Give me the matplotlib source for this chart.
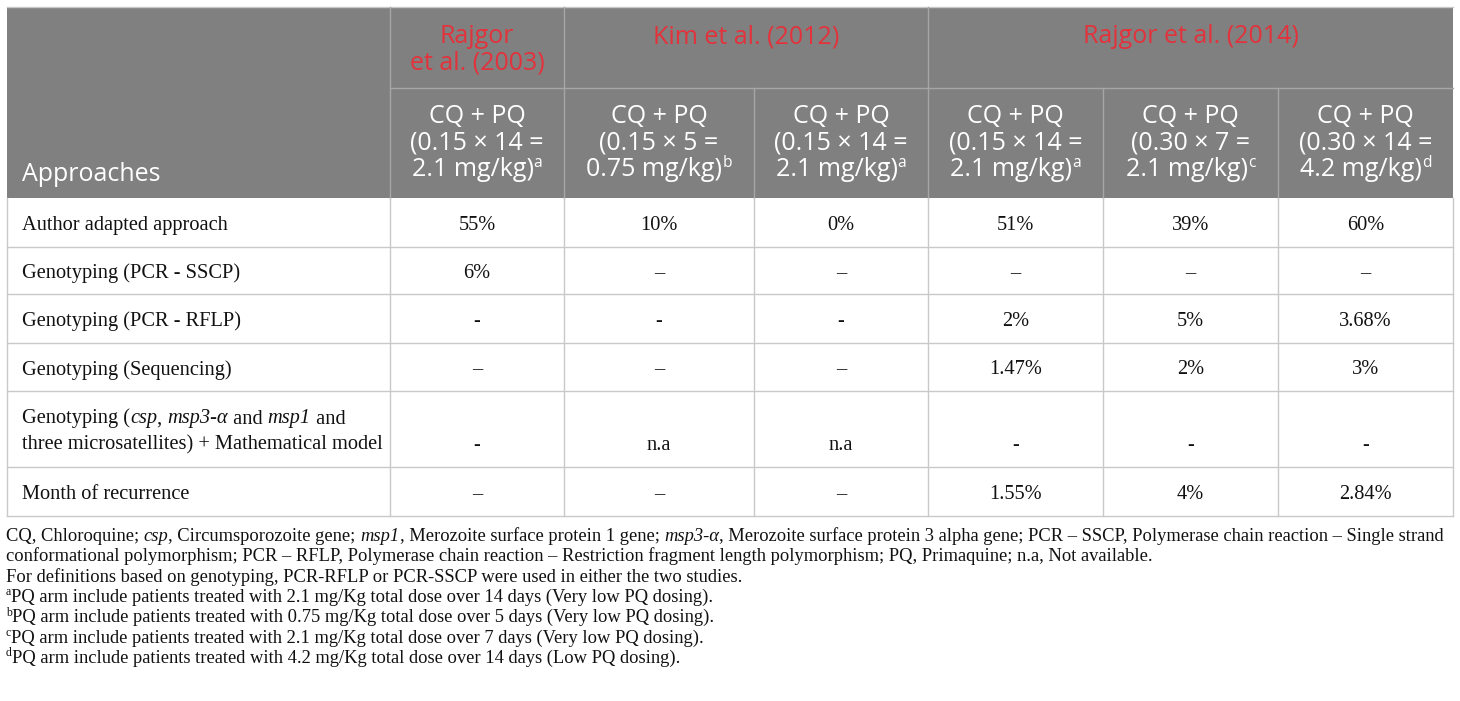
import matplotlib
matplotlib.use("Agg")
import matplotlib.pyplot as plt
from matplotlib.patches import Rectangle

# ---------------- data ----------------
study_names = ["Rajgor\net al. (2003)", "Kim et al. (2012)", "Rajgor et al. (2014)"]
study_arm_counts = [1, 2, 3]
arm_regimen = "CQ + PQ"
arm_doses = [
    ["(0.15 × 14 =", "2.1 mg/kg)"],
    ["(0.15 × 5 =", "0.75 mg/kg)"],
    ["(0.15 × 14 =", "2.1 mg/kg)"],
    ["(0.15 × 14 =", "2.1 mg/kg)"],
    ["(0.30 × 7 =", "2.1 mg/kg)"],
    ["(0.30 × 14 =", "4.2 mg/kg)"],
]
arm_notes = ["a", "b", "a", "a", "c", "d"]
corner_label = "Approaches"

row_labels = [
    [[("Author adapted approach", "n")]],
    [[("Genotyping (PCR - SSCP)", "n")]],
    [[("Genotyping (PCR - RFLP)", "n")]],
    [[("Genotyping (Sequencing)", "n")]],
    [[("Genotyping (", "n"), ("csp", "i"), (", ", "n"), ("msp3-α", "i"),
      (" and ", "n"), ("msp1", "i"), (" and", "n")],
     [("three microsatellites) + Mathematical model", "n")]],
    [[("Month of recurrence", "n")]],
]
values = [
    ["55%", "10%", "0%", "51%", "39%", "60%"],
    ["6%", "–", "–", "–", "–", "–"],
    ["-", "-", "-", "2%", "5%", "3.68%"],
    ["–", "–", "–", "1.47%", "2%", "3%"],
    ["-", "n.a", "n.a", "-", "-", "-"],
    ["–", "–", "–", "1.55%", "4%", "2.84%"],
]
footnotes = [
    [("CQ, Chloroquine; ", "n"), ("csp", "i"), (", Circumsporozoite gene; ", "n"), ("msp1", "i"),
     (", Merozoite surface protein 1 gene; ", "n"), ("msp3-α", "i"),
     (", Merozoite surface protein 3 alpha gene; PCR – SSCP, Polymerase chain reaction – Single strand", "n")],
    [("conformational polymorphism; PCR – RFLP, Polymerase chain reaction – Restriction fragment length polymorphism; PQ, Primaquine; n.a, Not available.", "n")],
    [("For definitions based on genotyping, PCR-RFLP or PCR-SSCP were used in either the two studies.", "n")],
    [("a", "sup"), ("PQ arm include patients treated with 2.1 mg/Kg total dose over 14 days (Very low PQ dosing).", "n")],
    [("b", "sup"), ("PQ arm include patients treated with 0.75 mg/Kg total dose over 5 days (Very low PQ dosing).", "n")],
    [("c", "sup"), ("PQ arm include patients treated with 2.1 mg/Kg total dose over 7 days (Very low PQ dosing).", "n")],
    [("d", "sup"), ("PQ arm include patients treated with 4.2 mg/Kg total dose over 14 days (Low PQ dosing).", "n")],
]

# ---------------- layout / style ----------------
W, H = 1460, 701
col_edges = [7, 390, 564, 754, 928, 1103, 1278, 1453]
head_top, head_mid, head_bot = 7, 88, 198
row_edges = [198, 247, 294, 343, 391, 467, 516]
head_bg = "#808080"
head_line = "#a6a6a6"
body_line = "#c9c9c9"
red = "#e3323b"
sans = "Open Sans"
serif = "Liberation Serif"
head_size = 18.0
body_size = 14.7
foot_size = 13.3

fig = plt.figure(figsize=(W / 100, H / 100), dpi=100)
ax = fig.add_axes([0, 0, 1, 1])
ax.set_xlim(0, W)
ax.set_ylim(H, 0)
ax.axis("off")
renderer = fig.canvas.get_renderer()

_bar_cache = {}


def _width(txt, kw):
    key = tuple(sorted(kw.items()))
    if key not in _bar_cache:
        t = ax.text(0, 0, "||", **kw)
        _bar_cache[key] = t.get_window_extent(renderer).width
        t.remove()
    t = ax.text(0, 0, "|" + txt + "|", **kw)
    w = t.get_window_extent(renderer).width - _bar_cache[key]
    t.remove()
    return w


def draw_runs(x, y, runs, ha="left", family=serif, size=body_size, color="#111111",
              sup_scale=0.64, sup_raise=0.5):
    items = []
    for txt, st in runs:
        kw = dict(family=family, fontsize=size, color=color)
        dy = 0
        if st == "i":
            kw["style"] = "italic"
        elif st == "sup":
            kw["fontsize"] = size * sup_scale
            dy = -size * sup_raise
        items.append((txt, kw, dy, _width(txt, kw)))
    total = sum(i[3] for i in items)
    x0 = x - total / 2 if ha == "center" else x
    for txt, kw, dy, w in items:
        ax.text(x0, y + dy, txt, ha="left", va="baseline", **kw)
        x0 += w


# header background
ax.add_patch(Rectangle((col_edges[0], head_top), col_edges[-1] - col_edges[0],
                       head_bot - head_top, facecolor=head_bg, edgecolor="none", zorder=0))
ax.plot([col_edges[0], col_edges[-1]], [head_top, head_top], color="#c8c8c8", lw=1)
ax.plot([col_edges[1], col_edges[-1]], [head_mid, head_mid], color=head_line, lw=1)

# study groups
ci = 1
for name, n in zip(study_names, study_arm_counts):
    x_left, x_right = col_edges[ci], col_edges[ci + n]
    xc = (x_left + x_right) / 2
    for k, line in enumerate(name.split("\n")):
        ax.text(xc, 43 + k * 26.5, line, ha="center", va="baseline",
                family=sans, fontsize=head_size, color=red)
    ci += n

# vertical header lines
group_bounds = [1]
for n in study_arm_counts:
    group_bounds.append(group_bounds[-1] + n)
for j in range(1, len(col_edges) - 1):
    y0 = head_top if j in group_bounds else head_mid
    ax.plot([col_edges[j], col_edges[j]], [y0, head_bot], color=head_line, lw=1)

# arm headers
for j, (dose, note) in enumerate(zip(arm_doses, arm_notes)):
    xc = (col_edges[j + 1] + col_edges[j + 2]) / 2
    ax.text(xc, 123, arm_regimen, ha="center", va="baseline",
            family=sans, fontsize=head_size, color="white")
    ax.text(xc, 150, dose[0], ha="center", va="baseline",
            family=sans, fontsize=head_size, color="white")
    draw_runs(xc, 176, [(dose[1], "n"), (note, "sup")], ha="center",
              family=sans, size=head_size, color="white", sup_scale=0.62, sup_raise=0.48)

ax.text(22, 181, corner_label, ha="left", va="baseline",
        family=sans, fontsize=head_size, color="white")

# body grid
for y in row_edges[1:]:
    ax.plot([col_edges[0], col_edges[-1]], [y, y], color=body_line, lw=1)
for x in col_edges:
    ax.plot([x, x], [row_edges[0], row_edges[-1]], color=body_line, lw=1)

# body text
for i, (label, vals) in enumerate(zip(row_labels, values)):
    top, bot = row_edges[i], row_edges[i + 1]
    nl = len(label)
    yc = (top + bot) / 2
    first_base = yc + 7.5 - (nl - 1) * 13
    for k, line in enumerate(label):
        draw_runs(22, first_base + k * 26, line)
    val_base = first_base + (nl - 1) * 26
    for j, v in enumerate(vals):
        xc = (col_edges[j + 1] + col_edges[j + 2]) / 2
        ax.text(xc, val_base, v, ha="center", va="baseline",
                family=serif, fontsize=body_size, color="#111111")

# footnotes
for k, line in enumerate(footnotes):
    draw_runs(6, 541 + k * 20.3, line, size=foot_size)

fig.savefig("out.png", dpi=100)
